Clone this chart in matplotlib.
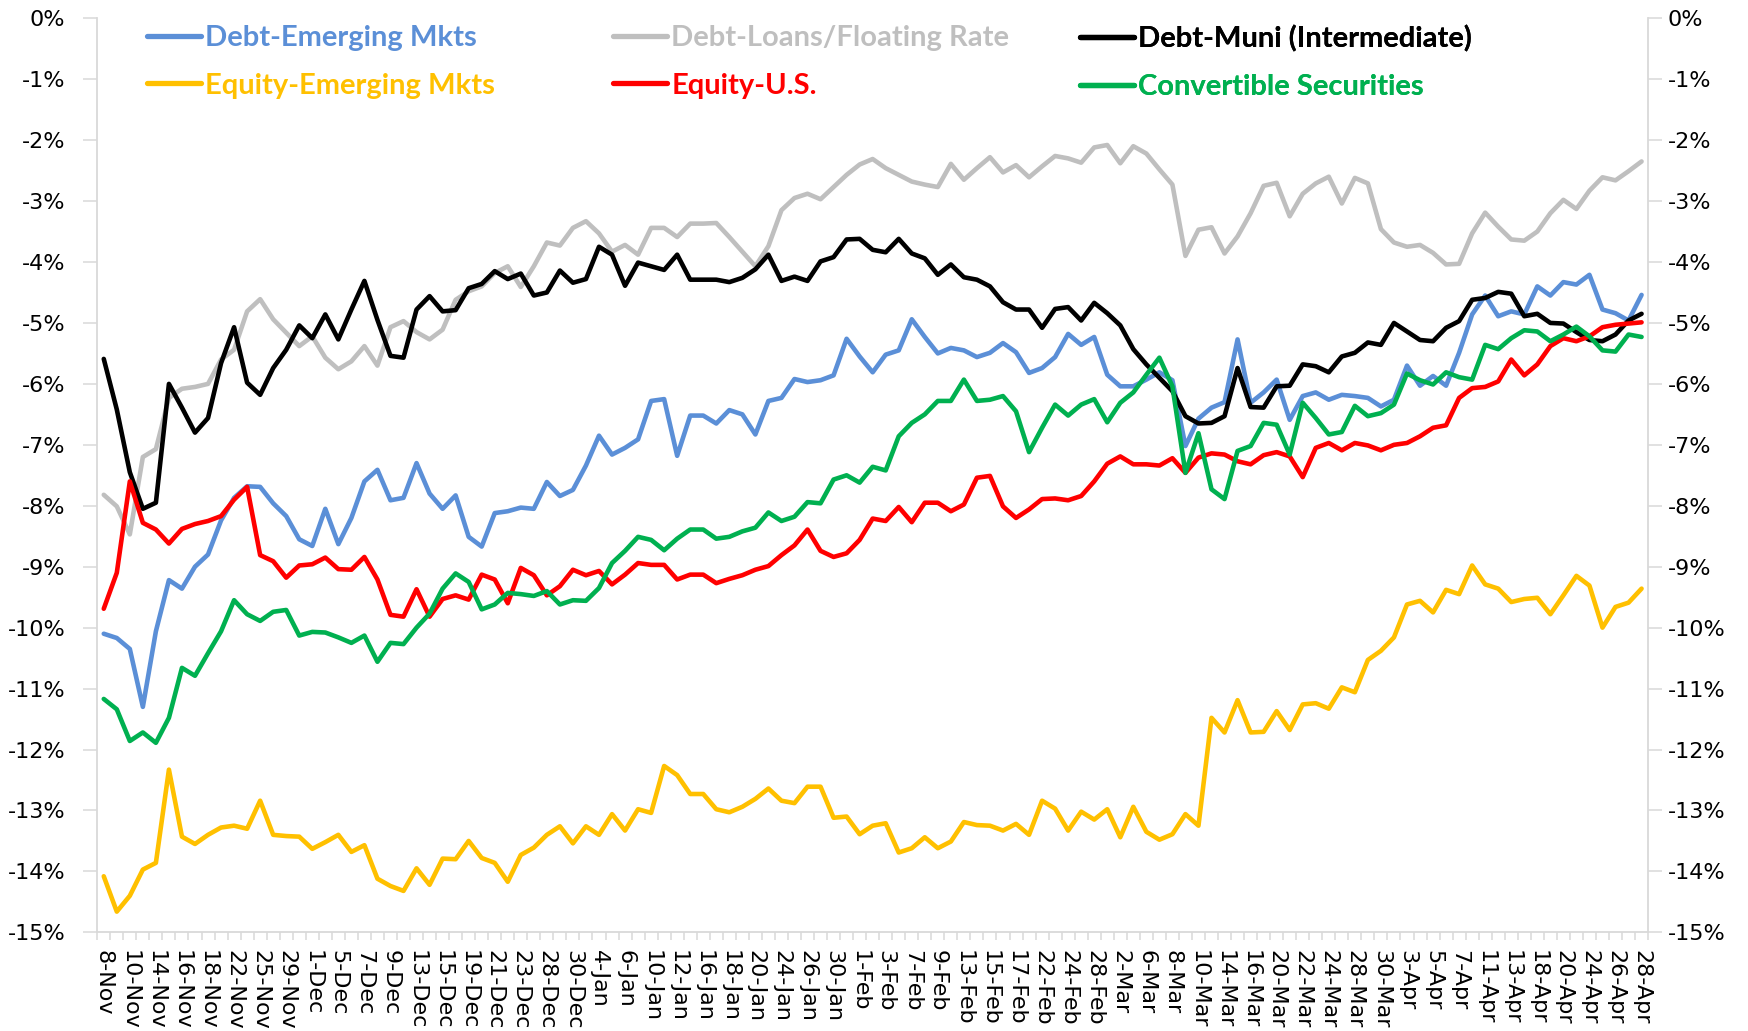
import matplotlib
matplotlib.use("Agg")
import matplotlib.pyplot as plt
from matplotlib.ticker import FuncFormatter
import numpy as np

# every other trading day is labelled on the category axis
tick_labels = ['8-Nov', '10-Nov', '14-Nov', '16-Nov', '18-Nov', '22-Nov', '25-Nov', '29-Nov',
               '1-Dec', '5-Dec', '7-Dec', '9-Dec', '13-Dec', '15-Dec', '19-Dec', '21-Dec', '23-Dec',
               '28-Dec', '30-Dec', '4-Jan', '6-Jan', '10-Jan', '12-Jan', '16-Jan', '18-Jan', '20-Jan',
               '24-Jan', '26-Jan', '30-Jan', '1-Feb', '3-Feb', '7-Feb', '9-Feb', '13-Feb', '15-Feb',
               '17-Feb', '22-Feb', '24-Feb', '28-Feb', '2-Mar', '6-Mar', '8-Mar', '10-Mar', '14-Mar',
               '16-Mar', '20-Mar', '22-Mar', '24-Mar', '28-Mar', '30-Mar', '3-Apr', '5-Apr', '7-Apr',
               '11-Apr', '13-Apr', '18-Apr', '20-Apr', '24-Apr', '26-Apr', '28-Apr']

debt_em = [-10.10, -10.17, -10.35, -11.30, -10.06, -9.22, -9.36, -9.00, -8.80, -8.24,
           -7.87, -7.68, -7.69, -7.96, -8.17, -8.55, -8.66, -8.05, -8.63, -8.20,
           -7.60, -7.41, -7.91, -7.87, -7.30, -7.80, -8.05, -7.83, -8.51, -8.67,
           -8.12, -8.09, -8.03, -8.05, -7.61, -7.84, -7.74, -7.34, -6.85, -7.16,
           -7.05, -6.91, -6.28, -6.25, -7.18, -6.52, -6.52, -6.65, -6.43, -6.50,
           -6.83, -6.28, -6.23, -5.92, -5.97, -5.94, -5.86, -5.26, -5.55, -5.81,
           -5.52, -5.45, -4.94, -5.23, -5.50, -5.41, -5.45, -5.56, -5.49, -5.33,
           -5.48, -5.82, -5.74, -5.56, -5.18, -5.36, -5.23, -5.85, -6.04, -6.04,
           -5.93, -5.81, -5.94, -7.02, -6.57, -6.39, -6.30, -5.27, -6.31, -6.14,
           -5.93, -6.59, -6.20, -6.14, -6.26, -6.18, -6.20, -6.23, -6.37, -6.26,
           -5.70, -6.03, -5.87, -6.03, -5.49, -4.86, -4.55, -4.89, -4.81, -4.86,
           -4.40, -4.55, -4.33, -4.37, -4.21, -4.78, -4.84, -4.96, -4.54]

debt_loans = [-7.82, -8.01, -8.47, -7.20, -7.07, -6.23, -6.08, -6.05, -6.00, -5.60,
              -5.44, -4.81, -4.61, -4.94, -5.16, -5.38, -5.22, -5.57, -5.76, -5.63,
              -5.38, -5.70, -5.07, -4.97, -5.15, -5.27, -5.11, -4.62, -4.48, -4.40,
              -4.18, -4.07, -4.41, -4.07, -3.68, -3.73, -3.44, -3.33, -3.53, -3.83,
              -3.72, -3.88, -3.44, -3.44, -3.59, -3.37, -3.37, -3.36, -3.59, -3.83,
              -4.07, -3.74, -3.15, -2.95, -2.88, -2.97, -2.77, -2.57, -2.40, -2.31,
              -2.46, -2.57, -2.68, -2.73, -2.77, -2.39, -2.65, -2.46, -2.28, -2.53,
              -2.41, -2.61, -2.43, -2.26, -2.30, -2.37, -2.12, -2.08, -2.38, -2.10,
              -2.22, -2.48, -2.73, -3.90, -3.47, -3.43, -3.86, -3.58, -3.20, -2.75,
              -2.70, -3.25, -2.88, -2.71, -2.60, -3.04, -2.62, -2.71, -3.46, -3.68,
              -3.75, -3.72, -3.85, -4.04, -4.03, -3.53, -3.19, -3.42, -3.63, -3.65,
              -3.50, -3.20, -2.98, -3.13, -2.83, -2.61, -2.66, -2.51, -2.35]

debt_muni = [-5.59, -6.42, -7.45, -8.05, -7.95, -6.00, -6.39, -6.80, -6.56, -5.66,
             -5.07, -5.98, -6.18, -5.74, -5.44, -5.04, -5.25, -4.86, -5.27, -4.78,
             -4.31, -4.95, -5.54, -5.57, -4.78, -4.56, -4.81, -4.79, -4.43, -4.36,
             -4.15, -4.28, -4.19, -4.55, -4.50, -4.14, -4.34, -4.28, -3.75, -3.88,
             -4.39, -4.01, -4.07, -4.13, -3.88, -4.29, -4.29, -4.29, -4.33, -4.26,
             -4.12, -3.88, -4.31, -4.24, -4.31, -3.99, -3.92, -3.63, -3.62, -3.80,
             -3.84, -3.62, -3.86, -3.94, -4.21, -4.04, -4.25, -4.29, -4.40, -4.66,
             -4.78, -4.78, -5.08, -4.77, -4.74, -4.96, -4.67, -4.84, -5.04, -5.43,
             -5.68, -5.90, -6.12, -6.53, -6.65, -6.64, -6.53, -5.74, -6.38, -6.39,
             -6.04, -6.03, -5.68, -5.71, -5.81, -5.55, -5.49, -5.32, -5.36, -5.00,
             -5.14, -5.28, -5.30, -5.08, -4.97, -4.62, -4.59, -4.49, -4.52, -4.89,
             -4.85, -5.00, -5.01, -5.15, -5.28, -5.30, -5.19, -4.96, -4.85]

equity_em = [-14.08, -14.66, -14.40, -13.97, -13.86, -12.33, -13.43, -13.55, -13.40, -13.28,
             -13.25, -13.30, -12.84, -13.40, -13.42, -13.43, -13.63, -13.52, -13.40, -13.68,
             -13.57, -14.12, -14.24, -14.32, -13.95, -14.22, -13.79, -13.80, -13.50, -13.78,
             -13.86, -14.17, -13.73, -13.61, -13.40, -13.26, -13.54, -13.26, -13.40, -13.06,
             -13.33, -12.98, -13.04, -12.27, -12.42, -12.73, -12.73, -12.98, -13.03, -12.94,
             -12.81, -12.64, -12.84, -12.88, -12.61, -12.61, -13.12, -13.10, -13.39, -13.25,
             -13.21, -13.69, -13.62, -13.44, -13.62, -13.51, -13.19, -13.24, -13.25, -13.33,
             -13.22, -13.40, -12.84, -12.97, -13.33, -13.02, -13.15, -12.98, -13.44, -12.94,
             -13.35, -13.48, -13.39, -13.06, -13.25, -11.48, -11.72, -11.19, -11.72, -11.71,
             -11.37, -11.68, -11.26, -11.24, -11.33, -10.98, -11.06, -10.53, -10.38, -10.16,
             -9.62, -9.56, -9.75, -9.38, -9.45, -8.98, -9.29, -9.36, -9.58, -9.53,
             -9.51, -9.78, -9.47, -9.15, -9.31, -10.00, -9.66, -9.59, -9.36]

equity_us = [-9.69, -9.10, -7.60, -8.28, -8.39, -8.62, -8.38, -8.30, -8.25, -8.17,
             -7.90, -7.69, -8.81, -8.91, -9.18, -8.98, -8.96, -8.85, -9.04, -9.05,
             -8.84, -9.21, -9.79, -9.82, -9.37, -9.82, -9.53, -9.47, -9.54, -9.13,
             -9.21, -9.60, -9.02, -9.14, -9.47, -9.32, -9.05, -9.14, -9.07, -9.29,
             -9.13, -8.94, -8.97, -8.97, -9.21, -9.13, -9.13, -9.27, -9.20, -9.14,
             -9.05, -8.99, -8.81, -8.65, -8.39, -8.74, -8.84, -8.78, -8.56, -8.21,
             -8.25, -8.02, -8.27, -7.95, -7.95, -8.09, -7.98, -7.54, -7.51, -8.01,
             -8.20, -8.06, -7.89, -7.88, -7.91, -7.84, -7.60, -7.31, -7.19, -7.32,
             -7.32, -7.34, -7.22, -7.46, -7.21, -7.14, -7.16, -7.27, -7.32, -7.17,
             -7.12, -7.19, -7.53, -7.05, -6.97, -7.09, -6.97, -7.01, -7.09, -7.00,
             -6.97, -6.86, -6.72, -6.68, -6.23, -6.07, -6.05, -5.96, -5.60, -5.86,
             -5.68, -5.38, -5.25, -5.30, -5.22, -5.07, -5.03, -5.01, -4.99]

convertible = [-11.17, -11.34, -11.86, -11.72, -11.89, -11.48, -10.66, -10.79, -10.42, -10.06,
               -9.55, -9.78, -9.89, -9.74, -9.71, -10.13, -10.07, -10.08, -10.16, -10.25,
               -10.13, -10.56, -10.25, -10.27, -10.00, -9.77, -9.36, -9.11, -9.25, -9.70,
               -9.62, -9.43, -9.45, -9.48, -9.40, -9.62, -9.55, -9.56, -9.35, -8.94,
               -8.74, -8.51, -8.56, -8.73, -8.54, -8.39, -8.39, -8.54, -8.51, -8.42,
               -8.36, -8.11, -8.25, -8.18, -7.94, -7.96, -7.57, -7.50, -7.62, -7.36,
               -7.42, -6.86, -6.64, -6.50, -6.28, -6.28, -5.93, -6.28, -6.26, -6.20,
               -6.45, -7.12, -6.72, -6.34, -6.52, -6.34, -6.25, -6.63, -6.31, -6.14,
               -5.85, -5.57, -6.04, -7.46, -6.81, -7.73, -7.89, -7.10, -7.02, -6.64,
               -6.67, -7.16, -6.31, -6.56, -6.83, -6.79, -6.36, -6.53, -6.48, -6.34,
               -5.83, -5.94, -6.01, -5.81, -5.89, -5.93, -5.36, -5.43, -5.25, -5.12,
               -5.14, -5.30, -5.19, -5.06, -5.22, -5.45, -5.47, -5.19, -5.23]

series = [
    ("Debt-Emerging Mkts", debt_em, "#5B8FD7"),
    ("Debt-Loans/Floating Rate", debt_loans, "#BFBFBF"),
    ("Debt-Muni (Intermediate)", debt_muni, "#000000"),
    ("Equity-Emerging Mkts", equity_em, "#FFC000"),
    ("Equity-U.S.", equity_us, "#FF0000"),
    ("Convertible Securities", convertible, "#00B050"),
]

axis_grey = "#D9D9D9"
n = len(debt_em)
x = np.arange(n)

fig = plt.figure(figsize=(17.49, 10.31), dpi=100)
ax = fig.add_axes([0.0556, 0.0957, 0.8867, 0.8866])

handles = []
for name, vals, col in series:
    ln, = ax.plot(x, vals, color=col, lw=3.3, label=name,
                  solid_joinstyle="round", solid_capstyle="round")
    handles.append(ln)

ax.set_xlim(-0.5, n - 0.5)
ax.set_ylim(-15, 0)

ax.set_xticks(x[::2])
ax.set_xticklabels(tick_labels, rotation=-90, fontsize=16)
ax.set_xticks(np.arange(-0.5, n, 1.0), minor=True)
ax.tick_params(axis="x", which="major", length=0, pad=13)
ax.tick_params(axis="x", which="minor", length=6, width=1.1, color=axis_grey)

pct = FuncFormatter(lambda v, p: "%d%%" % round(v))
yt = np.arange(-15, 1)
ax.set_yticks(yt)
ax.yaxis.set_major_formatter(pct)
ax.tick_params(axis="y", length=10, width=1.1, color=axis_grey, labelsize=16, pad=13)

ax2 = ax.twinx()
ax2.set_ylim(-15, 0)
ax2.set_yticks(yt)
ax2.yaxis.set_major_formatter(pct)
ax2.tick_params(axis="y", length=10, width=1.1, color=axis_grey, labelsize=16, pad=4)

for a in (ax, ax2):
    a.spines["top"].set_visible(False)
    for s in ("left", "right", "bottom"):
        a.spines[s].set_color(axis_grey)
        a.spines[s].set_linewidth(1.3)
ax.spines["right"].set_visible(False)
ax2.spines["left"].set_visible(False)
ax2.spines["bottom"].set_visible(False)

# legend: three columns of two rows, text in the line colour
lg_font = dict(family="Lato", weight="bold", size=21)
col_x = [147, 613, 1080]
for k in range(3):
    hs = [handles[k], handles[k + 3]]
    lg = ax2.legend(hs, [h.get_label() for h in hs], loc="upper left",
                    bbox_to_anchor=(col_x[k] / 1749, 1 - 25 / 1031),
                    bbox_transform=fig.transFigure, frameon=False,
                    borderpad=0, borderaxespad=0, handlelength=1.85,
                    handletextpad=0.15, labelspacing=0.74,
                    prop=lg_font, labelcolor="linecolor")
    for h in lg.get_lines():
        h.set_linewidth(3.8)
    ax2.add_artist(lg)

fig.savefig("out.png", dpi=100)
